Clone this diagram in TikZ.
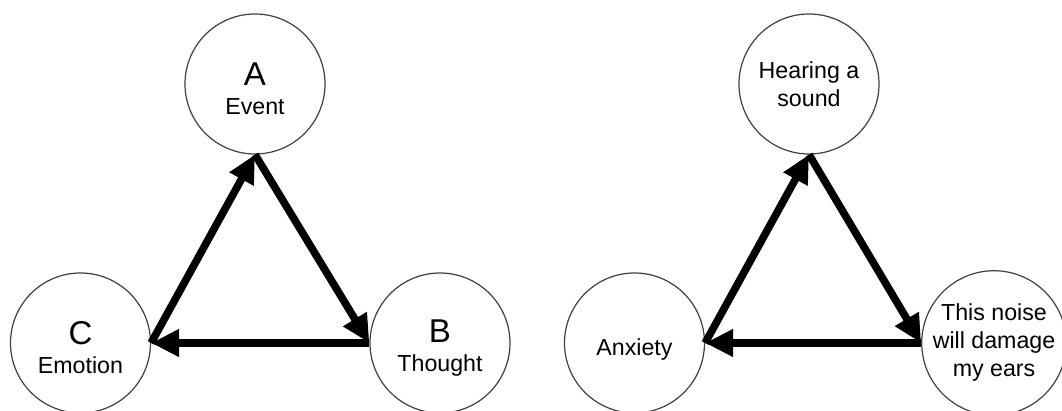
\documentclass[tikz,border=0pt]{standalone}
\usepackage{fontspec}
\setmainfont{Liberation Sans}
\usetikzlibrary{arrows.meta}

\newcommand{\bigletter}[1]{\rule{0pt}{16.5pt}{\fontsize{16.5}{13.8}\selectfont #1}}

\begin{document}
\begin{tikzpicture}[x = 0.5pt, y = 0.5pt,
		stage/.style = {draw = black!75, line width = 0.6pt, circle, minimum size = 70pt, inner sep = 0pt, align = center, font = \fontsize{11.6}{14}\selectfont},
		link/.style = {line width = 3.8pt, -{Triangle[length = 14pt, width = 13pt]}}]
	\useasboundingbox (0,0) rectangle (1062,411);

	% ABC model
	\node [stage] (A) at (255,327) {\bigletter{A}\\[0.5pt]Event};
	\node [stage] (B) at (440,68) {\bigletter{B}\\[0.5pt]Thought};
	\node [stage] (C) at (80.5,68) {\bigletter{C}\\[0.5pt]Emotion};

	% example
	\node [stage] (sound) at (809,327) {Hearing a\\sound};
	\node [stage] (noise) at (994,68) {This noise\\will damage\\my ears};
	\node [stage] (anxiety) at (634.5,68) {\rule{0pt}{15pt}Anxiety};

	\foreach \top/\right/\left in {A/B/C, sound/noise/anxiety}
	{
		\draw [link] (\left.east) -- (\top.south);
		\draw [link] (\top.south) -- (\right.west);
		\draw [link] (\right.west) -- (\left.east);
	}
\end{tikzpicture}
\end{document}
